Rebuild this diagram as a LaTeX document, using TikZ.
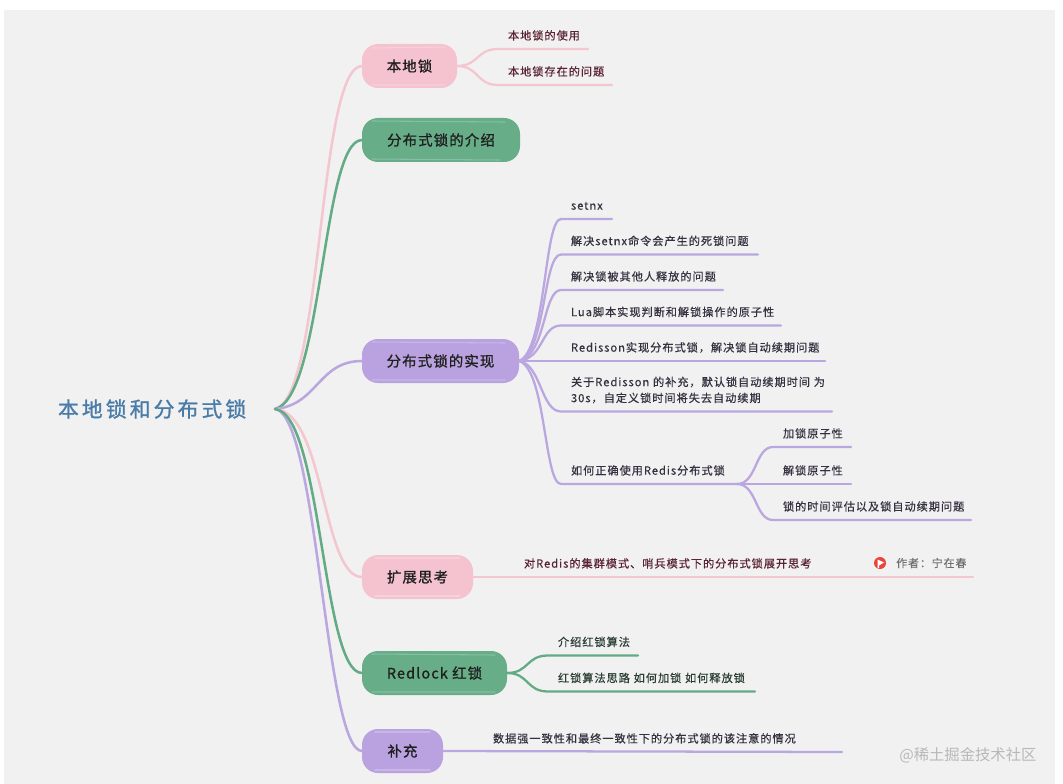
\documentclass[tikz,border=0pt]{standalone}
\usepackage{fontspec}
\setmainfont{Noto Sans CJK SC}
\newfontfamily\rootfont[LetterSpace=15,FakeBold=1.2]{Noto Sans CJK SC}
\newfontfamily\topicfont[LetterSpace=8,FakeBold=1]{Noto Sans CJK SC}
\newfontfamily\leaffont[LetterSpace=8.5,FakeBold=0.4]{Noto Sans CJK SC}
\newfontfamily\markfont{Noto Sans CJK SC}
\definecolor{panel}{HTML}{F1F1F1}
\definecolor{rosefill}{HTML}{F5C3CF}
\definecolor{jadefill}{HTML}{66AD88}
\definecolor{lilacfill}{HTML}{B9A2DF}
\definecolor{roseline}{HTML}{F4C6D0}
\definecolor{jadeline}{HTML}{63AB85}
\definecolor{lilacline}{HTML}{BBA7DF}
\definecolor{roottext}{HTML}{4A7CA8}
\definecolor{rosetext}{HTML}{5A2233}
\definecolor{jadetext}{HTML}{2A3D32}
\definecolor{lilactext}{HTML}{35303F}
\definecolor{authortext}{HTML}{707070}
\definecolor{flagred}{HTML}{E8453C}
\tikzset{
  topic/.style={anchor=west,minimum height=33pt,inner sep=0,outer sep=0,rounded corners=12pt,
    text=black!88,font=\topicfont\fontsize{10.8pt}{13pt}\selectfont},
  rosetopic/.style={topic,fill=rosefill},
  jadetopic/.style={topic,fill=jadefill},
  lilactopic/.style={topic,fill=lilacfill},
  leaf/.style={anchor=south west,inner xsep=0,inner ysep=3.4pt,outer sep=0,align=left,
    font=\leaffont\fontsize{8.4pt}{12pt}\selectfont},
  roseleaf/.style={leaf,text=rosetext},
  jadeleaf/.style={leaf,text=jadetext},
  lilacleaf/.style={leaf,text=lilactext},
  link/.style={line width=1.9pt,line cap=round},
  twig/.style={line width=1.7pt,line cap=round},
  sheen/.style={white,opacity=.22,line width=.8pt,line cap=round}
}
% leaf text sitting on its own underline: name, text x, line y, line end x, colour style, text
\newcommand{\leafnode}[6]{%
  \pgfmathsetmacro{\leafw}{(#4-#2)*0.75}%
  \node[#5,text width=\leafw pt] (#1) at (#2,#3) {\strut #6};}
% branch from a parent into the underline of a leaf
\newcommand{\branch}[5]{%
  \draw[twig,#1] (#2) .. controls +#4 and +#5 .. ([xshift=-7.5pt]#3.south west) -- (#3.south east);}
\begin{document}
\begin{tikzpicture}[x=0.75pt,y=-0.75pt]
\useasboundingbox (0,0) rectangle (1063,784);
\fill[white] (0,0) rectangle (1063,784);
\fill[panel] (4,10) rectangle (1055,784);

% central title
\node[anchor=west,inner sep=0,outer sep=0,text width=162.75pt,text=roottext,
  font=\rootfont\fontsize{15.6pt}{18pt}\selectfont] (root) at (58,409) {本地锁和分布式锁};

% main topics
\node[rosetopic,minimum width=71.25pt] (local) at (362,66) {本地锁};
\node[jadetopic,minimum width=118.5pt] (intro) at (362,140) {分布式锁的介绍};
\node[lilactopic,minimum width=117.75pt] (impl) at (362,361) {分布式锁的实现};
\node[rosetopic,minimum width=83.25pt] (think) at (362,577) {扩展思考};
\node[jadetopic,minimum width=108.75pt] (red) at (362,673) {Redlock 红锁};
\node[lilactopic,minimum width=60.75pt] (extra) at (362,751) {补充};

% brush highlights along the topic edges
\draw[sheen] (372,48) -- (445,47) (372,85) -- (445,85);
\draw[sheen] (372,121) -- (505,122) (372,159) -- (500,160);
\draw[sheen] (372,342) -- (505,343) (372,380) -- (505,380);
\draw[sheen] (375,558) -- (460,558) (375,596) -- (460,596);
\draw[sheen] (372,654) -- (495,655) (372,692) -- (495,692);
\draw[sheen] (375,732) -- (430,732) (375,770) -- (430,770);

% connectors from the title
\draw[link,roseline] (root.east) .. controls (323,398) and (318,66) .. (local.west);
\draw[link,jadeline] (root.east) .. controls (323,398) and (322,140) .. (intro.west);
\draw[link,lilacline] (root.east) .. controls (318,405) and (318,361) .. (impl.west);
\draw[link,roseline] (root.east) .. controls (325,412) and (322,577) .. (think.west);
\draw[link,lilacline] (root.east) .. controls (318,415) and (325,751) .. (extra.west);
\draw[link,jadeline] (root.east) .. controls (322,413) and (322,673) .. (red.west);

% leaves: local lock
\leafnode{l1}{508}{49}{588}{roseleaf}{本地锁的使用}
\leafnode{l2}{508}{85}{612}{roseleaf}{本地锁存在的问题}
\branch{roseline}{local.east}{l1}{(22,0)}{(-22,0)}
\branch{roseline}{local.east}{l2}{(22,0)}{(-22,0)}

% leaves: implementation
\leafnode{s1}{571}{219}{612}{lilacleaf}{setnx}
\leafnode{s2}{571}{254.5}{758}{lilacleaf}{解决setnx命令会产生的死锁问题}
\leafnode{s3}{571}{290}{723}{lilacleaf}{解决锁被其他人释放的问题}
\leafnode{s4}{571}{325.5}{781}{lilacleaf}{Lua脚本实现判断和解锁操作的原子性}
\leafnode{s5}{571}{361}{825}{lilacleaf}{Redisson实现分布式锁，解决锁自动续期问题}
\leafnode{s6}{571}{411.5}{832}{lilacleaf}{关于Redisson 的补充，默认锁自动续期时间 为\\\strut 30s，自定义锁时间将失去自动续期}
\leafnode{s7}{571}{484}{737}{lilacleaf}{如何正确使用Redis分布式锁}
\branch{lilacline}{impl.east}{s1}{(27,-10)}{(-17,0)}
\branch{lilacline}{impl.east}{s2}{(27,-8)}{(-18,0)}
\branch{lilacline}{impl.east}{s3}{(27,-6)}{(-18,0)}
\branch{lilacline}{impl.east}{s4}{(25,-3)}{(-20,0)}
\branch{lilacline}{impl.east}{s5}{(20,0)}{(-20,0)}
\branch{lilacline}{impl.east}{s6}{(22,3)}{(-20,0)}
\branch{lilacline}{impl.east}{s7}{(27,8)}{(-17,0)}

% leaves: how to use a Redis lock correctly
\leafnode{u1}{783}{447}{851}{lilacleaf}{加锁原子性}
\leafnode{u2}{783}{484}{851}{lilacleaf}{解锁原子性}
\leafnode{u3}{783}{520}{971}{lilacleaf}{锁的时间评估以及锁自动续期问题}
\branch{lilacline}{s7.south east}{u1}{(20,0)}{(-18,0)}
\branch{lilacline}{s7.south east}{u2}{(20,0)}{(-18,0)}
\branch{lilacline}{s7.south east}{u3}{(20,0)}{(-18,0)}

% leaves: further thinking
\leafnode{t1}{524}{577}{973}{roseleaf}{对Redis的集群模式、哨兵模式下的分布式锁展开思考}
\draw[twig,roseline] (think.east) -- (t1.south east);
\node[circle,fill=flagred,minimum size=9pt,inner sep=0] (flag) at (880,563) {};
\fill[white] (877.5,559.5) -- (884,562.5) -- (879,565.5) -- (879,568) -- (877.5,568) -- cycle;
\node[anchor=west,inner sep=0,text=authortext,font=\leaffont\fontsize{8.2pt}{11pt}\selectfont] (author) at (896,563) {作者：宁在春};

% leaves: redlock
\leafnode{r1}{558}{655.5}{638}{jadeleaf}{介绍红锁算法}
\leafnode{r2}{558}{691.5}{755}{jadeleaf}{红锁算法思路 如何加锁 如何释放锁}
\branch{jadeline}{red.east}{r1}{(22,0)}{(-22,0)}
\branch{jadeline}{red.east}{r2}{(22,0)}{(-22,0)}

% leaves: supplement
\leafnode{e1}{493}{752}{842}{lilacleaf}{数据强一致性和最终一致性下的分布式锁的该注意的情况}
\draw[twig,lilacline] (extra.east) -- (e1.south east);

% site mark in the corner
\node[anchor=west,inner sep=0,text=black!28,font=\markfont\fontsize{11.5pt}{14pt}\selectfont] (site) at (899,755) {@稀土掘金技术社区};
\end{tikzpicture}
\end{document}
